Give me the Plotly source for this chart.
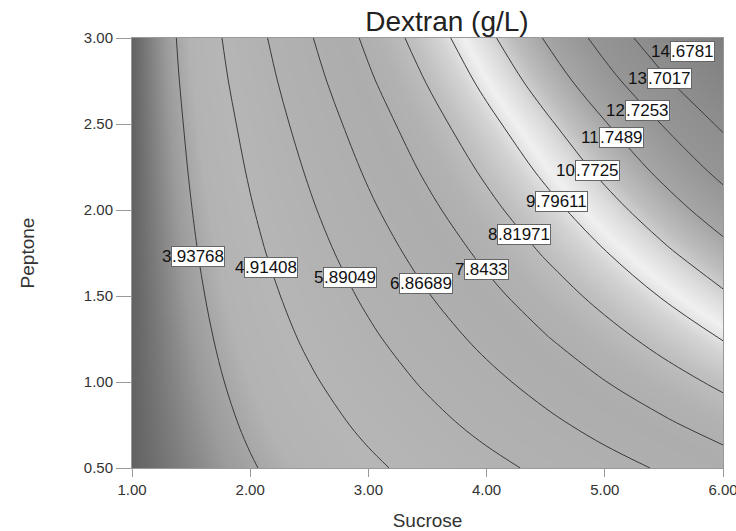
import plotly.graph_objects as go

# ---- data ----
sucrose = [1.0, 1.5, 2.0, 2.5, 3.0, 3.5, 4.0, 4.5, 5.0, 5.5, 6.0]
peptone = [0.5, 0.75, 1.0, 1.25, 1.5, 1.75, 2.0, 2.25, 2.5, 2.75, 3.0]
# dextran (g/L), rows = peptone, cols = sucrose
dextran = [
    [3.00, 3.44, 3.88, 4.32, 4.76, 5.20, 5.64, 6.08, 6.53, 6.97, 7.41],
    [3.00, 3.52, 4.04, 4.56, 5.08, 5.61, 6.13, 6.65, 7.17, 7.69, 8.22],
    [3.00, 3.60, 4.20, 4.80, 5.41, 6.01, 6.61, 7.21, 7.82, 8.42, 9.02],
    [3.00, 3.68, 4.36, 5.05, 5.73, 6.41, 7.10, 7.78, 8.46, 9.15, 9.83],
    [3.00, 3.76, 4.52, 5.29, 6.05, 6.82, 7.58, 8.34, 9.11, 9.87, 10.64],
    [3.00, 3.84, 4.69, 5.53, 6.37, 7.22, 8.06, 8.91, 9.75, 10.60, 11.44],
    [3.00, 3.92, 4.85, 5.77, 6.70, 7.62, 8.55, 9.47, 10.40, 11.33, 12.25],
    [3.00, 4.00, 5.01, 6.01, 7.02, 8.03, 9.03, 10.04, 11.05, 12.05, 13.06],
    [3.00, 4.08, 5.17, 6.26, 7.34, 8.43, 9.52, 10.60, 11.69, 12.78, 13.86],
    [3.00, 4.17, 5.35, 6.52, 7.70, 8.87, 10.05, 11.22, 12.40, 13.57, 14.74],
    [3.00, 4.25, 5.52, 6.78, 8.04, 9.30, 10.56, 11.82, 13.08, 14.34, 15.60],
]
level_start = 3.93768
level_end = 14.6781
level_step = 0.976405

label_text = ["3.93768", "4.91408", "5.89049", "6.86689", "7.8433", "8.81971",
              "9.79611", "10.7725", "11.7489", "12.7253", "13.7017", "14.6781"]
label_x = [1.33, 1.948, 2.612, 3.259, 3.809, 4.088, 4.409, 4.748, 4.951, 5.171, 5.357, 5.552]
label_y = [1.727, 1.663, 1.606, 1.570, 1.657, 1.855, 2.052, 2.227, 2.419, 2.581, 2.762, 2.920]

x_ticks = [1, 2, 3, 4, 5, 6]
y_ticks = [0.5, 1.0, 1.5, 2.0, 2.5, 3.0]

# grayscale rendering of the shading (dark - light - bright band - darker)
gray_stops = [(0.0, 98), (0.024, 122), (0.056, 155), (0.096, 179), (0.144, 182),
              (0.24, 177), (0.361, 173), (0.42, 178), (0.475, 192), (0.52, 212),
              (0.56, 240), (0.60, 218), (0.64, 190), (0.69, 167), (0.76, 151),
              (0.87, 140), (1.0, 126)]
colorscale = [[p, "rgb(%d,%d,%d)" % (g, g, g)] for p, g in gray_stops]

FONT = "Liberation Sans, Arial, sans-serif"

fig = go.Figure()
fig.add_trace(go.Heatmap(
    x=sucrose, y=peptone, z=dextran, zsmooth="best",
    colorscale=colorscale, zmin=3.0, zmax=15.6, showscale=False,
    hoverinfo="skip",
))
fig.add_trace(go.Contour(
    x=sucrose, y=peptone, z=dextran,
    contours=dict(start=level_start, end=level_end, size=level_step, coloring="none"),
    line=dict(color="#3a3a3a", width=1, smoothing=1.0),
    showscale=False, hoverinfo="skip",
))

annotations = []
for t, lx, ly in zip(label_text, label_x, label_y):
    ip, dp = t.split(".")
    annotations.append(dict(
        x=lx, y=ly, xref="x", yref="y", text=ip, showarrow=False,
        xanchor="right", yanchor="middle", xshift=2,
        font=dict(family=FONT, size=17, color="#111"),
    ))
    annotations.append(dict(
        x=lx, y=ly, xref="x", yref="y", text="." + dp, showarrow=False,
        xanchor="left", yanchor="middle",
        bgcolor="white", bordercolor="#666", borderwidth=1, borderpad=0,
        font=dict(family=FONT, size=17, color="#111"),
    ))

fig.update_layout(
    width=736, height=531,
    margin=dict(l=132, r=13, t=38, b=63),
    paper_bgcolor="white", plot_bgcolor="white",
    title=dict(text="Dextran (g/L)", x=0.533, xref="paper", xanchor="center",
               y=1 - 21 / 531, yref="container", yanchor="middle",
               font=dict(family=FONT, size=28, color="#222")),
    annotations=annotations,
    showlegend=False,
)
fig.update_xaxes(
    range=[1, 6], tickvals=x_ticks, tickformat=".2f", automargin=False,
    ticks="outside", ticklen=8, tickcolor="#999", showline=True, linecolor="#999",
    mirror=True, showgrid=False, zeroline=False, ticklabeloverflow="allow",
    tickfont=dict(family=FONT, size=15, color="#333"),
    title=dict(text="Sucrose", standoff=16, font=dict(family=FONT, size=19, color="#333")),
)
fig.update_yaxes(
    range=[0.5, 3], tickvals=y_ticks, tickformat=".2f", automargin=False,
    ticks="outside", ticklen=15, tickcolor="#999", showline=True, linecolor="#999",
    mirror=True, showgrid=False, zeroline=False,
    tickfont=dict(family=FONT, size=15, color="#333"),
    title=dict(text="Peptone", standoff=44, font=dict(family=FONT, size=19, color="#333")),
)

fig.write_html(
    "out.html",
    config={"displayModeBar": False},
    post_script="document.body.style.margin='0px';document.body.style.overflow='hidden';",
)
